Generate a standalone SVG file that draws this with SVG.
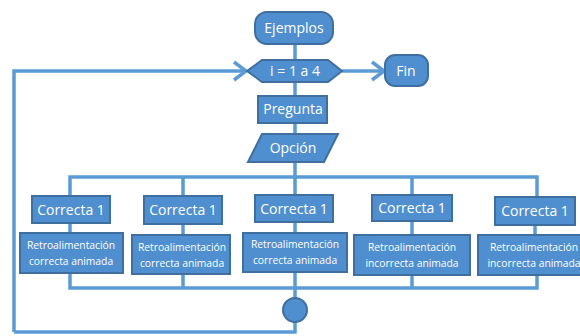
<svg xmlns="http://www.w3.org/2000/svg" width="580" height="336" viewBox="0 0 580 336">
<defs>
<style>
.n{fill:#4f8fcf;stroke:#3f6f9f;stroke-width:2}
.t{fill:#fff;font-family:"Open Sans","DejaVu Sans",sans-serif;text-anchor:middle}
.b{font-size:14px}
.s{font-size:10.3px}
.c{fill:none;stroke:#5b9bd5;stroke-width:3.5}
.h{fill:none;stroke:#5b9bd5;stroke-width:3.5;stroke-linejoin:miter}
</style>
</defs>
<rect width="580" height="336" fill="#fff"/>
<g id="connectors">
<path class="c" d="M295 44V60M295 82V96M295 123V134M295 162V196"/>
<path class="c" d="M342 71H383"/>
<path class="h" d="M372 62L384 71L372 80"/>
<path class="c" d="M14 332V71H245"/>
<path class="h" d="M234 62L246 71L234 80"/>
<path class="c" d="M70 196V177H537V197M183 177V196M412 177V195"/>
<path class="c" d="M70 223V233M183 224V235M295 222V233M412 221V235M535 225V235"/>
<path class="c" d="M70 273V288H537V275M183 274V288M412 275V288M295 272V298"/>
<path class="c" d="M295 322V332H14"/>
</g>
<g id="ejemplos"><rect class="n" x="255" y="12" width="78" height="32" rx="12"/><text class="t b" x="294" y="33">Ejemplos</text></g>
<g id="bucle"><polygon class="n" points="247,71 262,60 328,60 342,71 328,82 262,82"/><text class="t b" x="295" y="76">i = 1 a 4</text></g>
<g id="fin"><rect class="n" x="385" y="55" width="43" height="31" rx="10"/><text class="t b" x="406" y="76">Fin</text></g>
<g id="pregunta"><rect class="n" x="258" y="96" width="69" height="27"/><text class="t b" x="293" y="114">Pregunta</text></g>
<g id="opcion"><polygon class="n" points="262,134 338,134 324,162 248,162"/><text class="t b" x="293" y="153">Opción</text></g>
<g id="correcta1"><rect class="n" x="32" y="196" width="78" height="27"/><text class="t b" x="71" y="215">Correcta 1</text></g>
<g id="correcta2"><rect class="n" x="144" y="196" width="78" height="28"/><text class="t b" x="183" y="215">Correcta 1</text></g>
<g id="correcta3"><rect class="n" x="255" y="195" width="78" height="27"/><text class="t b" x="294" y="214">Correcta 1</text></g>
<g id="correcta4"><rect class="n" x="372" y="195" width="80" height="26"/><text class="t b" x="412" y="213">Correcta 1</text></g>
<g id="correcta5"><rect class="n" x="495" y="197" width="80" height="28"/><text class="t b" x="535" y="216">Correcta 1</text></g>
<g id="retro1"><rect class="n" x="20" y="233" width="103" height="40"/><text class="t s" x="71" y="249">Retroalimentación</text><text class="t s" x="71" y="265">correcta animada</text></g>
<g id="retro2"><rect class="n" x="132" y="235" width="98" height="39"/><text class="t s" x="182" y="251">Retroalimentación</text><text class="t s" x="182" y="267">correcta animada</text></g>
<g id="retro3"><rect class="n" x="243" y="233" width="104" height="39"/><text class="t s" x="295" y="248">Retroalimentación</text><text class="t s" x="295" y="264">correcta animada</text></g>
<g id="retro4"><rect class="n" x="354" y="235" width="116" height="40"/><text class="t s" x="412" y="251">Retroalimentación</text><text class="t s" x="412" y="267">incorrecta animada</text></g>
<g id="retro5"><rect class="n" x="478" y="235" width="112" height="40"/><text class="t s" x="534" y="251">Retroalimentación</text><text class="t s" x="534" y="267">incorrecta animada</text></g>
<g id="union"><circle class="n" cx="295" cy="310" r="12"/></g>
</svg>
